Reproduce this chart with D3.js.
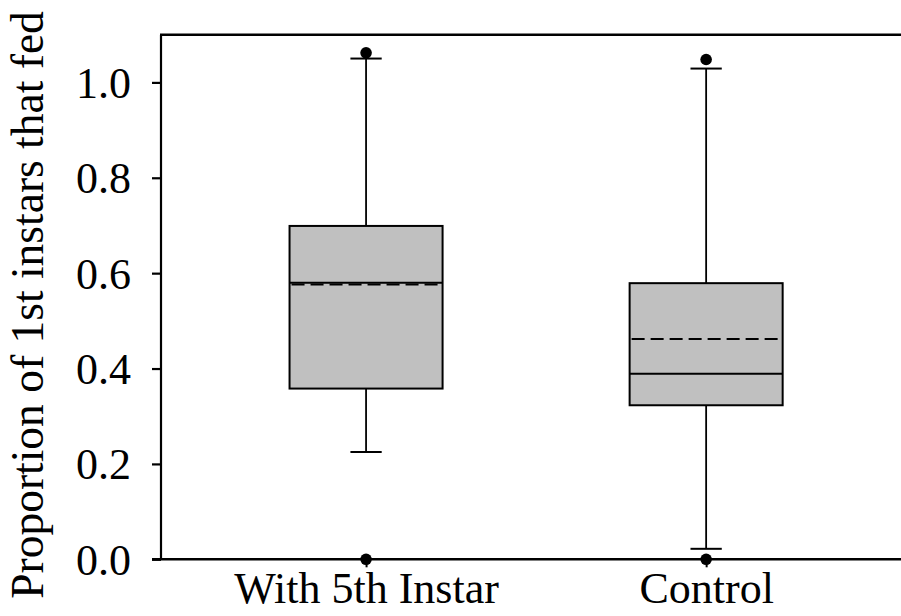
<!DOCTYPE html>
<html>
<head>
<meta charset="utf-8">
<script src="https://cdn.jsdelivr.net/npm/d3@7"></script>
<style>
  html, body { margin: 0; padding: 0; background: #ffffff; }
  svg { display: block; }
  text { font-family: "Liberation Serif", "Times New Roman", serif; fill: #000; }
</style>
</head>
<body>
<svg id="chart" width="901" height="616"></svg>
<script>
// Group labels and their position on the x axis
const categories = ["With 5th Instar", "Control"];
const positions = [1, 2];

// Box summaries (proportion of 1st instars that fed)
const q1Values      = [0.358, 0.323];
const medianValues  = [0.580, 0.389];
const meanValues    = [0.576, 0.462];
const q3Values      = [0.699, 0.579];
const lowerWhiskers = [0.225, 0.022];
const upperWhiskers = [1.050, 1.029];

// Outlying points for each group
const outliers = [[0.0, 1.062], [0.0, 1.048]];

// Y axis tick values
const yTicks = [0.0, 0.2, 0.4, 0.6, 0.8, 1.0];

const svg = d3.select("#chart");
const plotLeft = 161, plotRight = 901, plotTop = 34.7, plotBottom = 559.3;

const x = d3.scaleLinear().domain([0.397, 2.573]).range([plotLeft, plotRight]);
const y = d3.scaleLinear().domain([0, 1.1]).range([plotBottom, plotTop]);

const boxHalf = 0.225;   // half box width in x units
const capHalf = 0.046;   // half whisker-cap width in x units

const groups = categories.map((c, i) => ({
  name: c, pos: positions[i],
  q1: q1Values[i], med: medianValues[i], mean: meanValues[i], q3: q3Values[i],
  lo: lowerWhiskers[i], hi: upperWhiskers[i], out: outliers[i]
}));

const g = svg.append("g");

groups.forEach(d => {
  const cx = x(d.pos);
  // whiskers
  [[d.lo, d.q1], [d.q3, d.hi]].forEach(([a, b]) => {
    g.append("line").attr("x1", cx).attr("x2", cx)
      .attr("y1", y(a)).attr("y2", y(b))
      .attr("stroke", "#000").attr("stroke-width", 1.8);
  });
  [d.lo, d.hi].forEach(v => {
    g.append("line")
      .attr("x1", x(d.pos - capHalf)).attr("x2", x(d.pos + capHalf))
      .attr("y1", y(v)).attr("y2", y(v))
      .attr("stroke", "#000").attr("stroke-width", 2);
  });
  // box
  g.append("rect")
    .attr("x", x(d.pos - boxHalf)).attr("width", x(d.pos + boxHalf) - x(d.pos - boxHalf))
    .attr("y", y(d.q3)).attr("height", y(d.q1) - y(d.q3))
    .attr("fill", "#c0c0c0").attr("stroke", "#000").attr("stroke-width", 2);
  // median (solid) and mean (dashed)
  g.append("line")
    .attr("x1", x(d.pos - boxHalf)).attr("x2", x(d.pos + boxHalf))
    .attr("y1", y(d.med)).attr("y2", y(d.med))
    .attr("stroke", "#000").attr("stroke-width", 2);
  g.append("line")
    .attr("x1", x(d.pos - boxHalf) + 2).attr("x2", x(d.pos + boxHalf) - 2)
    .attr("y1", y(d.mean)).attr("y2", y(d.mean))
    .attr("stroke", "#000").attr("stroke-width", 2)
    .attr("stroke-dasharray", "13,6");
});

// axes
const yAxis = d3.axisLeft(y).tickValues(yTicks).tickFormat(d3.format(".1f"))
  .tickSizeOuter(0).tickSizeInner(9).tickPadding(21);
const ya = svg.append("g").attr("transform", `translate(${plotLeft},0)`).call(yAxis);
ya.select(".domain").attr("stroke", "#000").attr("stroke-width", 2.2)
  .attr("d", `M0,${plotTop}V${plotBottom}`);
ya.selectAll(".tick line").attr("stroke", "#000").attr("stroke-width", 2.2);
ya.selectAll(".tick text").style("font-size", "44px")
  .style("font-family", "'Liberation Serif', serif").attr("fill", "#000").attr("dy", "0.34em");

const xAxis = d3.axisBottom(x).tickValues(positions)
  .tickFormat((d, i) => categories[i]).tickSizeOuter(0).tickSizeInner(8).tickPadding(4);
const xa = svg.append("g").attr("transform", `translate(0,${plotBottom})`).call(xAxis);
xa.select(".domain").attr("stroke", "#000").attr("stroke-width", 2.4)
  .attr("d", `M${plotLeft - 9},0H${plotRight}`);
xa.selectAll(".tick line").attr("stroke", "#000").attr("stroke-width", 2);
xa.selectAll(".tick text").style("font-size", "44px")
  .style("font-family", "'Liberation Serif', serif").attr("fill", "#000");

// top frame line
svg.append("line").attr("x1", plotLeft - 1).attr("x2", plotRight)
  .attr("y1", plotTop).attr("y2", plotTop).attr("stroke", "#000").attr("stroke-width", 2.6);

// outlier points
groups.forEach(d => {
  d.out.forEach(v => {
    svg.append("circle").attr("cx", x(d.pos)).attr("cy", y(v)).attr("r", 5.8).attr("fill", "#000");
  });
});

// y axis title
svg.append("text")
  .attr("transform", `translate(43,${(plotTop + plotBottom) / 2 + 8}) rotate(-90)`)
  .attr("text-anchor", "middle")
  .style("font-size", "45.5px")
  .text("Proportion of 1st instars that fed");
</script>
</body>
</html>
